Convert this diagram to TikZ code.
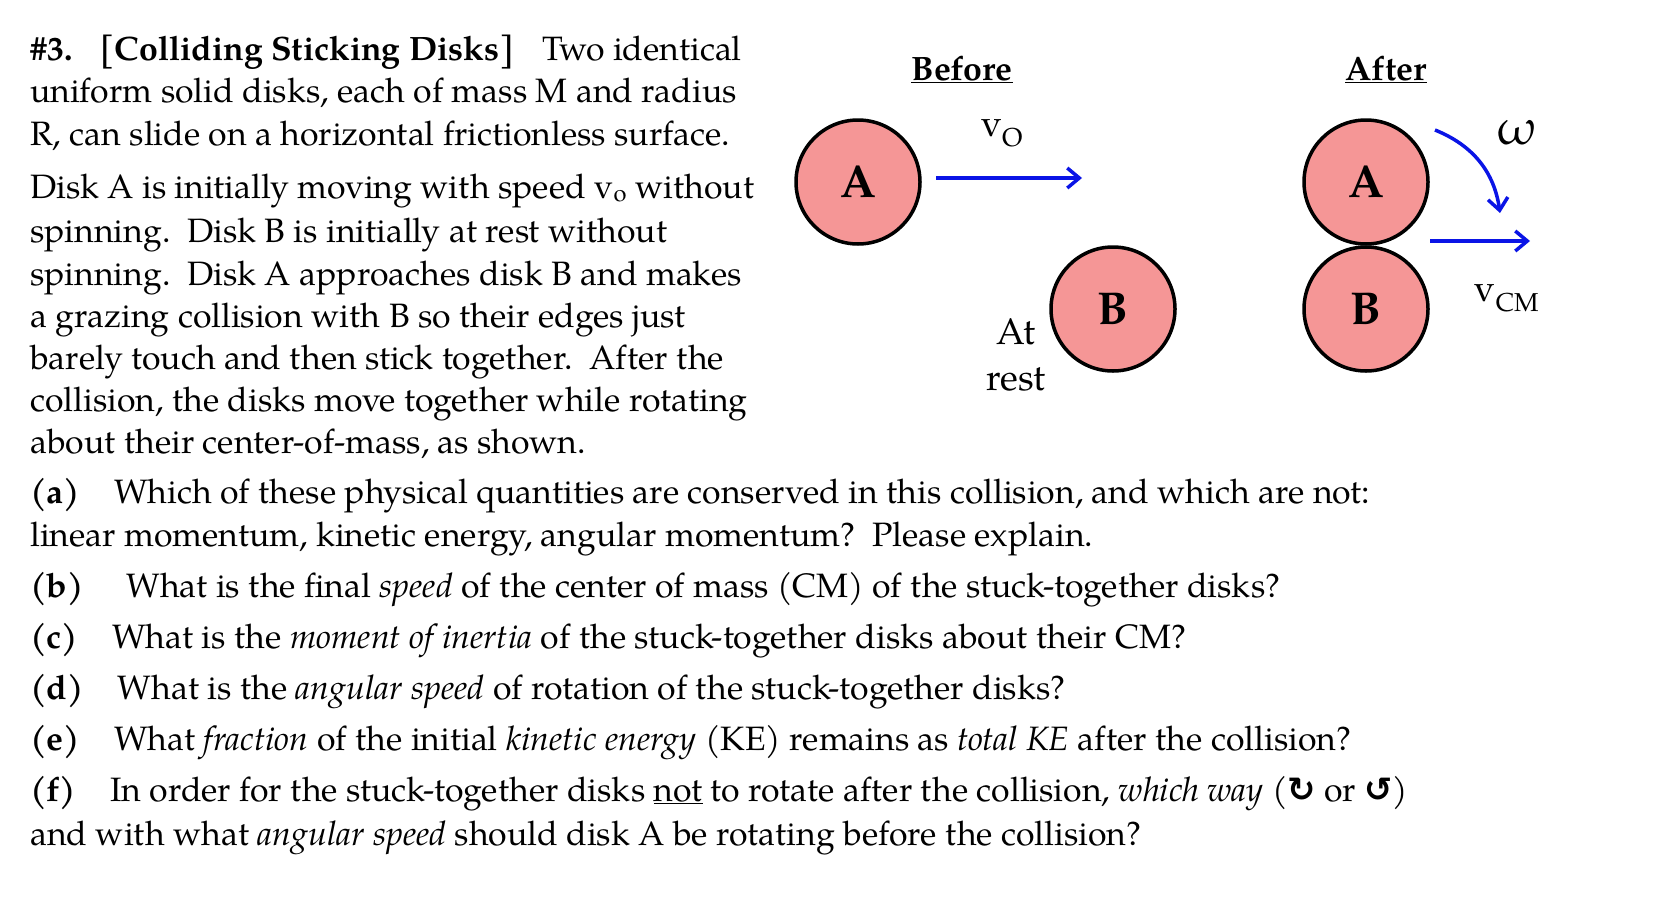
\documentclass[tikz,border=0pt]{standalone}
\usepackage{fontspec}
\setmainfont{TeX Gyre Pagella}
\newfontfamily\symfont{DejaVu Sans}
\usetikzlibrary{arrows.meta}
\definecolor{disk}{RGB}{245,150,150}
\definecolor{arr}{RGB}{10,20,230}
\tikzset{ln/.style={anchor=base west,inner sep=0pt,font=\fontsize{33.8}{40}\selectfont},
 dk/.style={circle,draw,line width=3.5pt,fill=disk,minimum size=124pt,inner sep=0pt,font=\fontsize{46}{46}\selectfont\bfseries},
 ar/.style={draw=arr,line width=3.5pt,-{Straight Barb[length=12pt,width=20pt]}},
 lb/.style={inner sep=0pt,font=\fontsize{37}{46}\selectfont}}
\begin{document}
\begin{tikzpicture}[x=1pt,y=-1pt]
\useasboundingbox (0,0) rectangle (1660,916);
\node[ln] (l1) at (30,60) {\textbf{\#3.}\hspace{0.8em}\textbf{[Colliding Sticking Disks]}\hspace{0.8em}Two identical};
\node[ln] (l2) at (30,102) {uniform solid disks, each of mass M and radius};
\node[ln] (l3) at (30,145) {R, can slide on a horizontal frictionless surface.};
\node[ln] (l4) at (30,198) {Disk A is initially moving with speed v\textsubscript{o} without};
\node[ln] (l5) at (30,242) {spinning.\ \ Disk B is initially at rest without};
\node[ln] (l6) at (30,285) {spinning.\ \ Disk A approaches disk B and makes};
\node[ln] (l7) at (30,327) {a grazing collision with B so their edges just};
\node[ln] (l8) at (30,369) {barely touch and then stick together.\ \ After the};
\node[ln] (l9) at (30,411) {collision, the disks move together while rotating};
\node[ln] (l10) at (30,453) {about their center-of-mass, as shown.};
\node[ln] (la) at (30,503) {\textbf{(a)}\quad Which of these physical quantities are conserved in this collision, and which are not:};
\node[ln] (la2) at (30,546) {linear momentum, kinetic energy, angular momentum?\ \ Please explain.};
\node[ln] (lb) at (30,597) {\textbf{(b)}\quad\ What is the final \textit{speed} of the center of mass (CM) of the stuck-together disks?};
\node[ln] (lc) at (30,648) {\textbf{(c)}\quad What is the \textit{moment of inertia} of the stuck-together disks about their CM?};
\node[ln] (ld) at (30,699) {\textbf{(d)}\quad What is the \textit{angular speed} of rotation of the stuck-together disks?};
\node[ln] (le) at (30,750) {\textbf{(e)}\quad What \textit{fraction} of the initial \textit{kinetic energy} (KE) remains as \textit{total KE} after the collision?};
\node[ln] (lf) at (30,801) {\textbf{(f)}\quad In order for the stuck-together disks \underline{not} to rotate after the collision, \textit{which way} ({\symfont\bfseries ↻} or {\symfont\bfseries ↺})};
\node[ln] (lf2) at (30,845) {and with what \textit{angular speed} should disk A be rotating before the collision?};
% diagram
\node[ln,anchor=base] (hb) at (962,80) {\textbf{\underline{Before}}};
\node[ln,anchor=base] (ha) at (1386,80) {\textbf{\underline{After}}};
\node[dk] (A1) at (858,182) {A};
\node[dk] (B1) at (1113,309) {B};
\node[dk] (A2) at (1366,182) {A};
\node[dk] (B2) at (1366,309) {B};
\coordinate (v0s) at (936,178); \coordinate (v0e) at (1082,178);
\draw[ar] (v0s) -- (v0e);
\node[lb] (v0) at (1002,133) {v\textsubscript{O}};
\node[lb,align=center] (rest) at (1016,355) {At\\rest};
\coordinate (vcs) at (1430,241); \coordinate (vce) at (1530,241);
\draw[ar] (vcs) -- (vce);
\node[lb] (vcm) at (1507,298) {v\textsubscript{CM}};
\coordinate (ws) at (1435,130); \coordinate (we) at (1500,213);
\draw[ar] (ws) to[bend left=30] (we);
\node[lb,font=\fontsize{50}{50}\selectfont] (w) at (1517,133) {ω};
\end{tikzpicture}
\end{document}
